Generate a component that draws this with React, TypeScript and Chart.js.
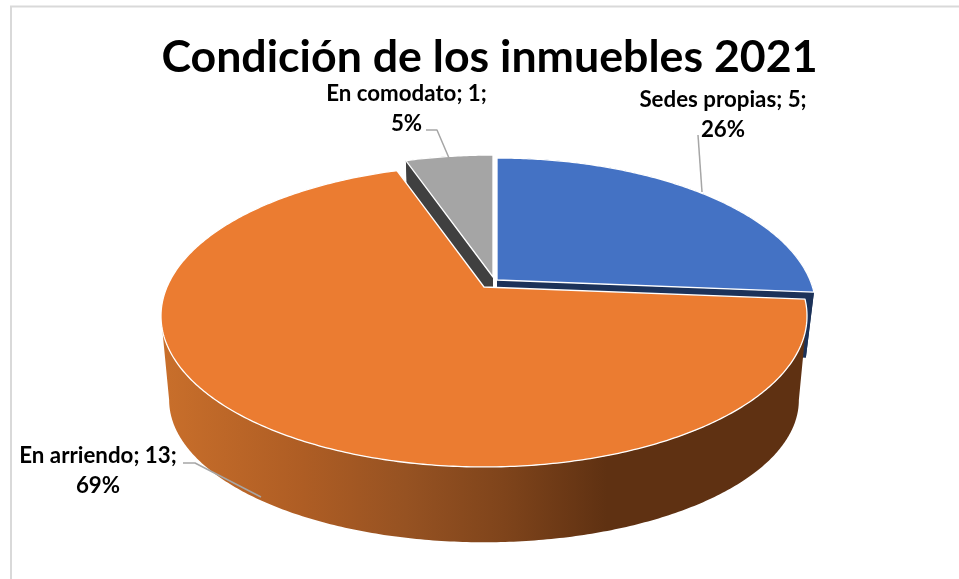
import React, { useEffect, useRef } from "react";
import { Chart, registerables } from "chart.js";

Chart.register(...registerables);

const titleText = "Condición de los inmuebles 2021";
const categories = ["Sedes propias", "En arriendo", "En comodato"];
const counts = [5, 13, 1];
const percents = ["26%", "69%", "5%"];
const topColors = ["#4472C4", "#EB7C31", "#A5A5A5"];
const sideColors = ["#1C3259", "#5F3112", "#404040"];

// Projection of the tilted disc, per slice
const K = 0.192;
const topRadiusX = [313, 317, 317];
const RY = 145.4;
const bottomRadiusX = [305, 309, 309];
const bottomRadiusY = [153, 137, 153];
const depths = [65, 85.7, 65];
const apexes = [
  { x: 497, y: 280 },
  { x: 484, y: 287 },
  { x: 493, y: 277 },
];
const drawOrder = [2, 0, 1];
const labelPlaces = [
  { x: 723, y: 107, dy: 30 },
  { x: 98, y: 463, dy: 30 },
  { x: 406.5, y: 101, dy: 30 },
];
const leaders = [
  [[698, 135], [702, 192]],
  [[183, 463], [195, 463], [261, 497]],
  [[426, 130], [437, 130], [449, 158]],
];
const wallStops: [number, string][] = [
  [0, "#C96F2B"],
  [0.22, "#AE5D24"],
  [0.38, "#965222"],
  [0.53, "#7F441B"],
  [0.69, "#5F3112"],
  [1, "#5F3112"],
];

function top(i: number, angle: number) {
  const a = apexes[i];
  const u = Math.cos(angle);
  const v = Math.sin(angle);
  const s = 1 / (1 - K * v);
  return { x: a.x + topRadiusX[i] * u * s, y: a.y + RY * v * s };
}
function bottom(i: number, angle: number) {
  const a = apexes[i];
  const u = Math.cos(angle);
  const v = Math.sin(angle);
  const s = 1 / (1 - K * v);
  return { x: a.x + bottomRadiusX[i] * u * s, y: a.y + depths[i] + bottomRadiusY[i] * v * s };
}
function angles(start: number, end: number) {
  const n = Math.max(8, Math.ceil((end - start) * 90));
  const out: number[] = [];
  for (let i = 0; i <= n; i++) out.push(start + ((end - start) * i) / n);
  return out;
}

const pie3d = {
  id: "pie3d",
  beforeDraw(chart: any) {
    const ctx = chart.ctx;
    ctx.save();
    ctx.strokeStyle = "#D9D9D9";
    ctx.lineWidth = 2;
    ctx.beginPath();
    ctx.moveTo(11, 579);
    ctx.lineTo(11, 6.5);
    ctx.lineTo(959, 6.5);
    ctx.stroke();
    ctx.restore();
  },
  beforeDatasetsDraw(chart: any) {
    const ctx = chart.ctx;
    const arcs = chart.getDatasetMeta(0).data;
    for (const i of drawOrder) {
      const arc = arcs[i];
      const a = apexes[i];
      const list = angles(arc.startAngle, arc.endAngle);
      let sideFill: any = sideColors[i];
      let wallList = list;
      if (i === 1) {
        const g = ctx.createLinearGradient(161, 0, 807, 0);
        wallStops.forEach(([o, c]) => g.addColorStop(o, c));
        sideFill = g;
        // only the front of the wall, so the outline does not fold over itself
        wallList = list.filter((ang) => Math.sin(ang) >= 0.19);
      } else {
        // cut faces of the pulled-out slices
        for (const ang of [arc.startAngle, arc.endAngle]) {
          const t = top(i, ang);
          const b = bottom(i, ang);
          ctx.beginPath();
          ctx.moveTo(a.x, a.y);
          ctx.lineTo(t.x, t.y);
          ctx.lineTo(b.x, b.y);
          ctx.lineTo(a.x, a.y + depths[i]);
          ctx.closePath();
          ctx.fillStyle = sideColors[i];
          ctx.fill();
        }
      }
      // outer wall
      ctx.beginPath();
      wallList.forEach((ang, j) => {
        const p = top(i, ang);
        if (j === 0) ctx.moveTo(p.x, p.y);
        else ctx.lineTo(p.x, p.y);
      });
      [...wallList].reverse().forEach((ang) => {
        const p = bottom(i, ang);
        ctx.lineTo(p.x, p.y);
      });
      ctx.closePath();
      ctx.fillStyle = sideFill;
      ctx.fill();
      // top face
      ctx.beginPath();
      ctx.moveTo(a.x, a.y);
      list.forEach((ang) => {
        const p = top(i, ang);
        ctx.lineTo(p.x, p.y);
      });
      ctx.closePath();
      ctx.fillStyle = arc.options.backgroundColor;
      ctx.fill();
      ctx.lineWidth = 1.3;
      ctx.lineJoin = "round";
      ctx.strokeStyle = "#FFFFFF";
      ctx.stroke();
    }
    return false;
  },
  afterDraw(chart: any) {
    const ctx = chart.ctx;
    ctx.save();
    ctx.strokeStyle = "#A6A6A6";
    ctx.lineWidth = 1.5;
    leaders.forEach((line) => {
      ctx.beginPath();
      line.forEach(([x, y], j) => (j === 0 ? ctx.moveTo(x, y) : ctx.lineTo(x, y)));
      ctx.stroke();
    });
    ctx.fillStyle = "#000000";
    ctx.font = "bold 22.3px Lato";
    ctx.textAlign = "center";
    ctx.textBaseline = "alphabetic";
    categories.forEach((c, i) => {
      const p = labelPlaces[i];
      ctx.fillText(`${c}; ${counts[i]};`, p.x, p.y);
      ctx.fillText(percents[i], p.x, p.y + p.dy);
    });
    ctx.restore();
  },
};

export default function App() {
  const ref = useRef<HTMLCanvasElement>(null);
  useEffect(() => {
    const chart = new Chart(ref.current as HTMLCanvasElement, {
      type: "pie",
      data: {
        labels: categories,
        datasets: [{ data: counts, backgroundColor: topColors, borderWidth: 0 }],
      },
      options: {
        animation: false,
        responsive: false,
        layout: { padding: { left: 20 } },
        plugins: {
          legend: { display: false },
          tooltip: { enabled: false },
          title: {
            display: true,
            text: titleText,
            color: "#000000",
            font: { family: "Lato", weight: "bold", size: 44.7 },
            padding: { top: 31, bottom: 10 },
          },
        },
      },
      plugins: [pie3d],
    } as any);
    return () => chart.destroy();
  }, []);
  return (
    <canvas
      ref={ref}
      width={959}
      height={579}
      style={{ position: "fixed", left: 0, top: 0, width: 959, height: 579 }}
    />
  );
}
